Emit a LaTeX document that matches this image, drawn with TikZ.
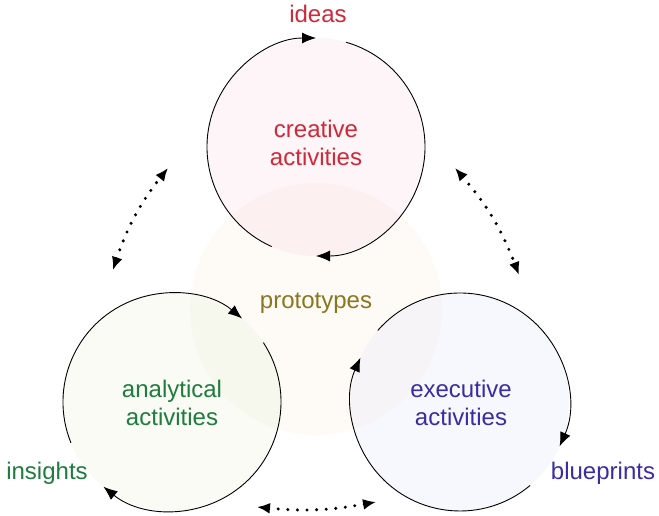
\documentclass[tikz,border=0pt]{standalone}
\usepackage{fontspec}
\setmainfont{Liberation Sans}
\usetikzlibrary{arrows.meta}

\definecolor{crRed}{RGB}{208,40,56}
\definecolor{anGreen}{RGB}{30,124,62}
\definecolor{exBlue}{RGB}{58,44,162}
\definecolor{prOlive}{RGB}{138,118,32}
\definecolor{crFill}{RGB}{250,228,234}
\definecolor{anFill}{RGB}{238,245,226}
\definecolor{exFill}{RGB}{234,236,250}
\definecolor{prFill}{RGB}{254,250,245}

\tikzset{
  activity/.style={circle, minimum size=218bp, inner sep=0pt, outer sep=0pt,
    fill=#1, fill opacity=0.38, text opacity=1},
  cycle/.style={line width=0.9bp, -{Latex[length=14bp,width=11bp]}},
  exchange/.style={line width=3.4bp, line cap=round,
    dash pattern=on 0bp off 9.6bp,
    {Latex[length=13bp,width=11bp]}-{Latex[length=13bp,width=11bp]}},
  label/.style={font=\fontsize{24bp}{28bp}\selectfont, align=center},
}

\begin{document}
\begin{tikzpicture}[x=1bp,y=1bp]
  \useasboundingbox (0,0) rectangle (659,516);

  % shared ground where the three activities meet
  \node[circle, minimum size=252bp, inner sep=0pt, fill=prFill] (proto) at (316,207) {};

  % the three activity circles
  \node[activity=crFill] (creative) at (316,369) {};
  \node[activity=anFill] (analytic) at (172,114) {};
  \node[activity=exFill] (execute)  at (460,114) {};

  % circulation around each activity
  \draw[cycle] (creative.246) arc[start angle=246, end angle=90, radius=109bp];
  \draw[cycle] (creative.74) arc[start angle=74, end angle=-90, radius=109bp];

  \draw[cycle] (analytic.33) arc[start angle=33, end angle=-129, radius=109bp];
  \draw[cycle] (analytic.202) arc[start angle=202, end angle=50, radius=109bp];

  \draw[cycle] (execute.139) arc[start angle=139, end angle=-24, radius=109bp];
  \draw[cycle] (execute.-50) arc[start angle=-50, end angle=-204, radius=109bp];

  % exchanges between neighbouring activities
  \coordinate (ca1) at (113,246);
  \coordinate (ca2) at (168,348);
  \coordinate (ce1) at (455,348);
  \coordinate (ce2) at (519,241);
  \coordinate (ae1) at (257,9);
  \coordinate (ae2) at (376,14);
  \draw[exchange] (ca1) to[bend left=10] (ca2);
  \draw[exchange] (ce1) to[bend left=10] (ce2);
  \draw[exchange] (ae1) to[bend right=8] (ae2);

  % labels
  \node[label, text=crRed]   (tCreative) at (316,373.5) {creative\\activities};
  \node[label, text=anGreen] (tAnalytic) at (172,113.5) {analytical\\activities};
  \node[label, text=exBlue]  (tExecute)  at (461,113.5) {executive\\activities};

  \node[label, text=crRed,   anchor=base] (ideas)      at (318,493) {ideas};
  \node[label, text=prOlive, anchor=base] (prototypes) at (316,207) {prototypes};
  \node[label, text=anGreen, anchor=base] (insights)   at (47,36)   {insights};
  \node[label, text=exBlue,  anchor=base] (blueprints) at (603,36)  {blueprints};
\end{tikzpicture}
\end{document}
